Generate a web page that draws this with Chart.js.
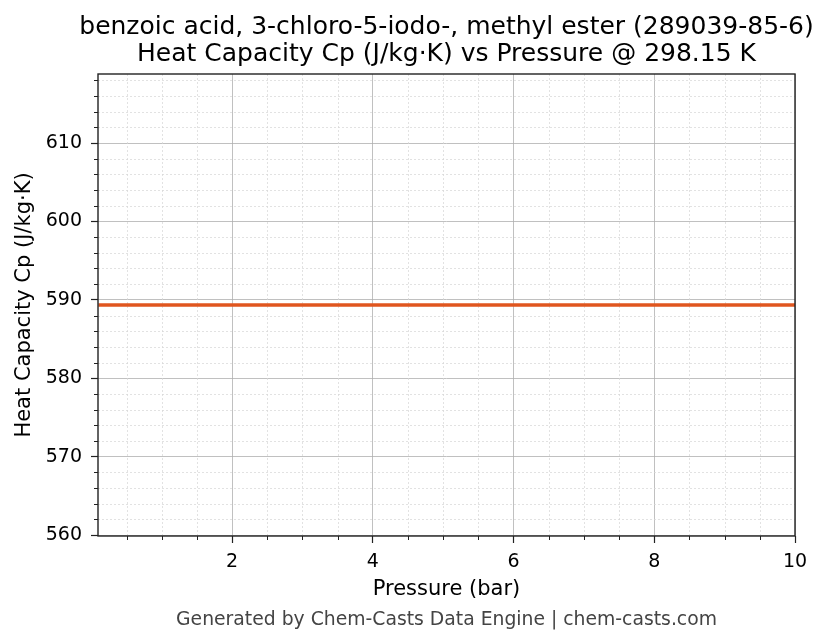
<!DOCTYPE html>
<html>
<head>
<meta charset="utf-8">
<script src="https://cdn.jsdelivr.net/npm/chart.js@4.4.1/dist/chart.umd.min.js"></script>
<style>
html,body{margin:0;padding:0;background:#fff;}
#wrap{width:829px;height:644px;position:relative;}
</style>
</head>
<body>
<div id="wrap"><canvas id="c" width="829" height="644"></canvas></div>
<script>
// Data
const pressureBar = [0.1, 1, 2, 3, 4, 5, 6, 7, 8, 9, 10];
const heatCapacity = [589.35, 589.35, 589.35, 589.35, 589.35, 589.35, 589.35, 589.35, 589.35, 589.35, 589.35];
const xTicks = [2, 4, 6, 8, 10];
const yTicks = [560, 570, 580, 590, 600, 610];
const xMinorTicks = [0.5,1,1.5,2,2.5,3,3.5,4,4.5,5,5.5,6,6.5,7,7.5,8,8.5,9,9.5,10];
const yMinorTicks = [562,564,566,568,570,572,574,576,578,580,582,584,586,588,590,592,594,596,598,600,602,604,606,608,610,612,614,616,618];
const titleLines = ['benzoic acid, 3-chloro-5-iodo-, methyl ester (289039-85-6)', 'Heat Capacity Cp (J/kg\u00b7K) vs Pressure @ 298.15 K'];
const footerText = 'Generated by Chem-Casts Data Engine | chem-casts.com';

const FONT = "'DejaVu Sans', sans-serif";

const minorPlugin = {
  id: 'minor',
  beforeDatasetsDraw(chart) {
    const {ctx, chartArea: a, scales: {x, y}} = chart;
    ctx.save();
    ctx.beginPath();
    ctx.rect(a.left, a.top, a.right - a.left, a.bottom - a.top);
    ctx.clip();
    ctx.strokeStyle = '#d6d6d6';
    ctx.lineWidth = 0.7;
    ctx.setLineDash([2, 2]);
    xMinorTicks.forEach(v => {
      if (xTicks.includes(v)) return;
      const px = Math.round(x.getPixelForValue(v)) + 0.5;
      ctx.beginPath(); ctx.moveTo(px, a.top); ctx.lineTo(px, a.bottom); ctx.stroke();
    });
    yMinorTicks.forEach(v => {
      if (yTicks.includes(v)) return;
      const py = Math.round(y.getPixelForValue(v)) + 0.5;
      ctx.beginPath(); ctx.moveTo(a.left, py); ctx.lineTo(a.right, py); ctx.stroke();
    });
    ctx.restore();
  },
  afterDraw(chart) {
    const {ctx, chartArea: a, scales: {x, y}} = chart;
    ctx.save();
    ctx.strokeStyle = '#222';
    ctx.lineWidth = 1;
    xMinorTicks.forEach(v => {
      if (xTicks.includes(v)) return;
      const px = Math.round(x.getPixelForValue(v)) + 0.5;
      ctx.beginPath(); ctx.moveTo(px, a.bottom); ctx.lineTo(px, a.bottom + 4); ctx.stroke();
    });
    yMinorTicks.forEach(v => {
      if (yTicks.includes(v)) return;
      const py = Math.round(y.getPixelForValue(v)) + 0.5;
      ctx.beginPath(); ctx.moveTo(a.left, py); ctx.lineTo(a.left - 4, py); ctx.stroke();
    });
    ctx.lineWidth = 1.4;
    ctx.strokeRect(a.left, a.top, a.right - a.left, a.bottom - a.top);
    // titles centred on the axes area
    const cx = (a.left + a.right) / 2;
    ctx.textAlign = 'center';
    ctx.textBaseline = 'alphabetic';
    ctx.fillStyle = '#000';
    ctx.font = "25px " + FONT;
    ctx.fillText(titleLines[0], cx, 34);
    ctx.fillText(titleLines[1], cx, 61);
    ctx.fillStyle = '#444';
    ctx.font = "18.8px " + FONT;
    ctx.fillText(footerText, cx, 625);
    ctx.restore();
  }
};

new Chart(document.getElementById('c'), {
  type: 'line',
  data: {
    datasets: [{
      data: pressureBar.map((p, i) => ({x: p, y: heatCapacity[i]})),
      borderColor: '#E0561F',
      borderWidth: 3.5,
      pointRadius: 0,
      fill: false,
      tension: 0
    }]
  },
  options: {
    responsive: false,
    animation: false,
    devicePixelRatio: 1,
    layout: {padding: {left: 0, right: 34, top: 74, bottom: 0}},
    plugins: {
      legend: {display: false},
      tooltip: {enabled: false},
      title: {display: false}
    },
    scales: {
      x: {
        type: 'linear',
        min: 0.094,
        max: 10,
        afterBuildTicks: s => { s.ticks = xTicks.map(v => ({value: v})); },
        afterFit: s => { s.height = 108; },
        ticks: {color: '#000', font: {family: FONT, size: 19}, padding: 8, maxRotation: 0, autoSkip: false},
        grid: {color: '#b0b0b0', lineWidth: 0.8, tickColor: '#222', tickLength: 7, tickWidth: 1.2},
        border: {display: false},
        title: {display: true, text: 'Pressure (bar)', color: '#000', font: {family: FONT, size: 21}, padding: {top: 4, bottom: 42}}
      },
      y: {
        type: 'linear',
        min: 559.88,
        max: 618.8,
        afterBuildTicks: s => { s.ticks = yTicks.map(v => ({value: v})); },
        afterFit: s => { s.width = 98; },
        ticks: {color: '#000', font: {family: FONT, size: 19}, padding: 9, autoSkip: false},
        grid: {color: '#b0b0b0', lineWidth: 0.8, tickColor: '#222', tickLength: 7, tickWidth: 1.2},
        border: {display: false},
        title: {display: true, text: 'Heat Capacity Cp (J/kg\u00b7K)', color: '#000', font: {family: FONT, size: 21}, padding: {top: 12, bottom: 4}}
      }
    }
  },
  plugins: [minorPlugin]
});
</script>
</body>
</html>
